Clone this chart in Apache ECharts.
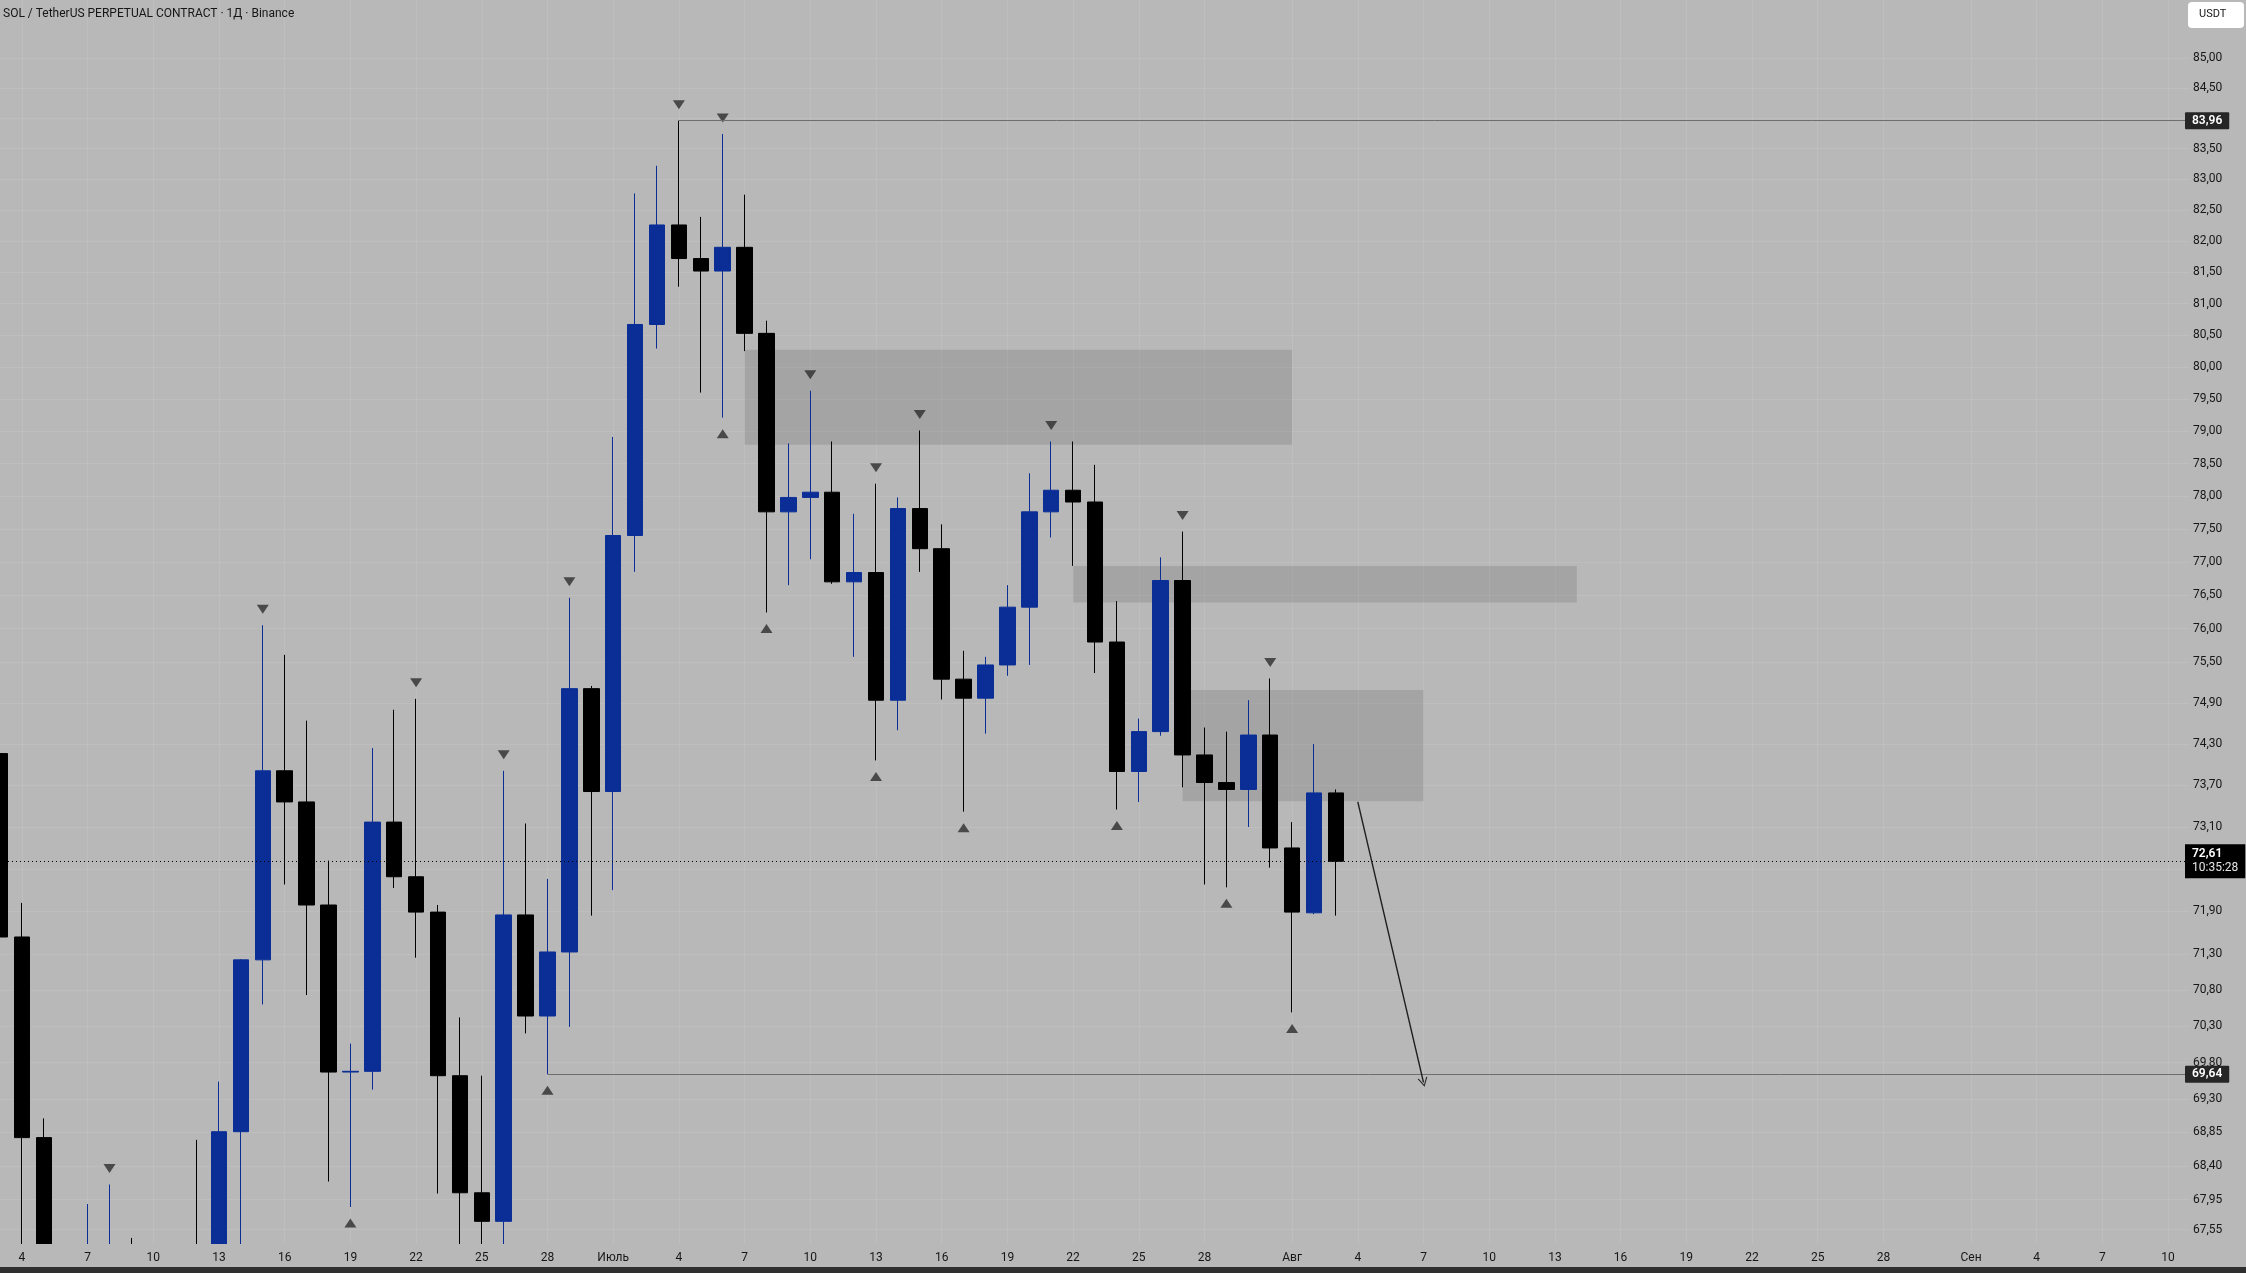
<!DOCTYPE html>
<html>
<head>
<meta charset="utf-8">
<script src="https://cdn.jsdelivr.net/npm/echarts@6/dist/echarts.min.js"></script>
<style>
html,body{margin:0;padding:0;background:#b8b8b8;}
#c{width:2246px;height:1273px;}
</style>
</head>
<body>
<div id="c"></div>
<script>
// ---------- data ----------
const chartTitle = 'SOL / TetherUS PERPETUAL CONTRACT · 1Д · Binance';
const quoteCurrency = 'USDT';

// calendar: first visible day 3 June, axis runs to 11 Sep
const monthSpans = [['06', 3, 30], ['07', 1, 31], ['08', 1, 31], ['09', 1, 11]];
const monthNames = {'07': 'Июль', '08': 'Авг', '09': 'Сен'};
const labelDays = [1, 4, 7, 10, 13, 16, 19, 22, 25, 28];

// daily candles from 3 June (index 0) to 3 Aug (index 61)
const opens  = [74.16,71.54,68.78,66.90,66.40,67.10,67.30,66.80,66.50,67.30,66.80,68.86,71.22,73.91,73.46,71.99,69.67,69.68,73.17,72.39,71.89,69.62,68.04,67.66,71.85,70.44,71.33,75.11,73.61,77.40,80.67,82.26,81.72,81.52,81.90,80.53,77.76,77.98,78.06,76.70,76.84,74.94,77.81,77.20,75.25,74.97,75.46,76.32,77.76,78.09,77.91,75.80,73.90,74.48,76.72,74.14,73.74,73.64,74.43,72.80,71.88,73.59];
const closes = [71.54,68.78,66.90,66.40,67.10,67.30,66.80,66.50,67.30,66.80,68.86,71.22,73.91,73.46,71.99,69.67,69.68,73.17,72.39,71.89,69.62,68.04,67.66,71.85,70.44,71.33,75.11,73.61,77.40,80.67,82.26,81.72,81.52,81.90,80.53,77.76,77.98,78.06,76.70,76.84,74.94,77.81,77.20,75.25,74.97,75.46,76.32,77.76,78.09,77.91,75.80,73.90,74.48,76.72,74.14,73.74,73.64,74.43,72.80,71.89,73.59,72.61];
const lows   = [70.82,67.00,66.50,65.90,66.00,66.60,66.30,65.90,66.20,66.40,66.50,67.30,70.60,72.28,70.73,68.19,67.85,69.43,72.23,71.25,68.03,67.30,67.30,67.30,70.20,69.64,70.29,71.84,72.20,76.85,80.29,81.27,79.60,79.21,80.25,76.24,76.65,77.04,76.67,75.58,74.06,74.50,76.85,74.95,73.32,74.45,75.30,75.46,77.37,76.94,75.34,73.35,73.46,74.42,73.67,72.28,72.24,73.10,72.52,70.49,71.86,71.84];
const highs  = [75.67,72.02,69.04,67.20,67.89,68.15,67.44,67.20,67.33,68.75,69.54,71.23,76.05,75.61,74.64,72.62,70.06,74.24,74.80,74.96,71.99,70.42,69.62,73.91,73.15,72.36,76.46,75.15,78.91,82.77,83.22,83.96,82.39,83.74,82.75,80.73,78.81,79.63,78.84,77.73,78.19,77.98,79.01,77.57,75.67,75.58,76.65,78.35,78.84,78.84,78.48,76.41,74.67,77.07,77.46,74.54,74.48,74.94,75.26,73.17,74.30,73.64];

// fractal marks (day indices)
const fractalHighDays = [5,12,19,23,26,31,33,37,40,42,48,54,58];
const fractalLowDays  = [16,25,33,35,40,44,51,56,59];

// price axis labels
const priceLabels = [85.00,84.50,83.50,83.00,82.50,82.00,81.50,81.00,80.50,80.00,79.50,79.00,78.50,78.00,77.50,77.00,76.50,76.00,75.50,74.90,74.30,73.70,73.10,71.90,71.30,70.80,70.30,69.80,69.30,68.85,68.40,67.95,67.55];
const priceGrid = [85.00,84.50,84.00,83.50,83.00,82.50,82.00,81.50,81.00,80.50,80.00,79.50,79.00,78.50,78.00,77.50,77.00,76.50,76.00,75.50,74.90,74.30,73.70,73.10,72.50,71.90,71.30,70.80,70.30,69.80,69.30,68.85,68.40,67.95,67.55];
const priceMin = 67.36, priceMax = 85.97;

// drawn levels
const highLevel = {price: 83.96, fromDay: 31, label: '83,96'};
const lowLevel  = {price: 69.64, fromDay: 25, label: '69,64'};
const lastPrice = {price: 72.61, label: '72,61', timer: '10:35:28'};

// grey zones: start day, end day, top, bottom
const zoneStart  = [34, 49, 54];
const zoneEnd    = [59, 72, 65];
const zoneTop    = [80.27, 76.94, 75.09];
const zoneBottom = [78.79, 76.39, 73.47];

// projection arrow: [day, price]
const arrowFrom = [62, 73.46];
const arrowTo   = [65, 69.53];

// ---------- build ----------
const categories = [];
monthSpans.forEach(([m, a, b]) => { for (let d = a; d <= b; d++) categories.push(m + '-' + String(d).padStart(2, '0')); });
const lastIndex = categories.length - 1;

const candleData = opens.map((o, i) => [o, closes[i], lows[i], highs[i]]);
const isLabelDay = (idx) => labelDays.includes(+categories[idx].slice(3));
const fmtPrice = v => (Math.round(v * 100) / 100).toFixed(2).replace('.', ',');

const BG = '#b8b8b8';
const BLUE = '#0a2e96';
const FONT = 'Roboto';
const GRID_RIGHT = 56, GRID_BOTTOM = 29;
const PANE_RIGHT = 62; // visible price-pane edge from the right
const TAG_SHIFT = GRID_RIGHT - PANE_RIGHT + 1;
const W = 2246, H = 1273;
const chart = echarts.init(document.getElementById('c'), null, {renderer: 'canvas'});

const tagLabel = {
  show: true, position: 'end', distance: TAG_SHIFT,
  backgroundColor: '#262626', color: '#ffffff', fontSize: 12, fontWeight: 600, fontFamily: FONT,
  padding: [3, 7, 2, 7], borderRadius: 1
};

chart.setOption({
  animation: false,
  backgroundColor: BG,
  textStyle: {fontFamily: FONT},
  grid: {left: 0, right: GRID_RIGHT, top: 0, bottom: GRID_BOTTOM, containLabel: false},
  xAxis: [
    {
      type: 'category',
      data: categories,
      boundaryGap: false,
      z: 20,
      axisLine: {show: false},
      axisTick: {show: false},
      axisLabel: {
        interval: (idx) => isLabelDay(idx),
        formatter: (v) => { const day = +v.slice(3); return day === 1 ? monthNames[v.slice(0, 2)] : String(day); },
        color: '#161616', fontSize: 12, fontFamily: FONT, margin: 8
      },
      splitLine: {show: false}
    },
    {
      type: 'category',
      data: categories,
      boundaryGap: false,
      position: 'top',
      axisLine: {show: false},
      axisTick: {show: false},
      axisLabel: {show: false},
      splitLine: {show: true, interval: (idx) => isLabelDay(idx), lineStyle: {color: 'rgba(255,255,255,0.09)', width: 1}}
    }
  ],
  yAxis: {
    type: 'log',
    logBase: 10,
    position: 'right',
    min: priceMin,
    max: priceMax,
    axisLine: {show: false},
    axisTick: {show: false, customValues: priceGrid},
    axisLabel: {customValues: priceLabels, formatter: fmtPrice, color: '#161616', fontSize: 12, fontFamily: FONT, margin: 9 + (GRID_RIGHT - PANE_RIGHT)},
    splitLine: {show: true, lineStyle: {color: 'rgba(255,255,255,0.09)', width: 1}}
  },
  series: [
    {
      type: 'line', data: [], z: 1, clip: false, silent: true,
      markArea: {
        silent: true,
        itemStyle: {color: 'rgba(0,0,0,0.105)'},
        data: zoneStart.map((s, i) => [{coord: [s, zoneTop[i]]}, {coord: [zoneEnd[i], zoneBottom[i]]}])
      },
      markLine: {
        silent: true,
        symbol: ['none', 'none'],
        data: [
          [{coord: [highLevel.fromDay, highLevel.price], label: Object.assign({}, tagLabel, {formatter: highLevel.label})},
           {coord: [lastIndex, highLevel.price]}],
          [{coord: [lowLevel.fromDay, lowLevel.price], label: Object.assign({}, tagLabel, {formatter: lowLevel.label})},
           {coord: [lastIndex, lowLevel.price]}]
        ],
        lineStyle: {color: '#6e6e6e', width: 1, type: 'solid'},
        label: tagLabel
      }
    },
    {
      type: 'line', data: [], z: 2, clip: false, silent: true,
      markLine: {
        silent: true,
        symbol: ['none', 'none'],
        data: [{yAxis: lastPrice.price}],
        lineStyle: {color: '#000000', width: 1, type: [1, 3]},
        label: {
          show: true, position: 'end', distance: TAG_SHIFT,
          formatter: '{a|' + lastPrice.label + '}\n{b|' + lastPrice.timer + '}',
          backgroundColor: '#000000', padding: [3, 7, 3, 7],
          rich: {
            a: {color: '#ffffff', fontSize: 12, fontWeight: 600, fontFamily: FONT, lineHeight: 14},
            b: {color: '#e6e6e6', fontSize: 12, fontFamily: FONT, lineHeight: 14}
          }
        }
      }
    },
    {
      type: 'candlestick',
      data: candleData,
      barWidth: 16,
      z: 3,
      clip: true,
      itemStyle: {color: BLUE, color0: '#000000', borderColor: BLUE, borderColor0: '#000000', borderWidth: 1}
    },
    {
      type: 'line', data: [], z: 5, clip: false, silent: true,
      markLine: {
        silent: true,
        symbol: ['none', 'path://M0,10 L5,0 L10,10 L8.8,10 L5,2.2 L1.2,10 Z'],
        symbolSize: [10, 9],
        data: [[{coord: arrowFrom}, {coord: arrowTo}]],
        lineStyle: {color: '#1e1e1e', width: 1.4, type: 'solid'},
        label: {show: false}
      }
    },
    {
      type: 'scatter', z: 4, silent: true,
      data: fractalHighDays.map(d => [d, highs[d]]),
      symbol: 'triangle', symbolRotate: 180, symbolSize: [12, 9], symbolOffset: [0, -16],
      itemStyle: {color: '#2d2d2d'}
    },
    {
      type: 'scatter', z: 4, silent: true,
      data: fractalLowDays.map(d => [d, lows[d]]),
      symbol: 'triangle', symbolSize: [12, 9], symbolOffset: [0, 16],
      itemStyle: {color: '#2d2d2d'}
    }
  ],
  graphic: [
    // hides candle parts below the bottom of the price pane (time-scale strip)
    {type: 'rect', z: 10, shape: {x: 0, y: H - GRID_BOTTOM, width: W - GRID_RIGHT, height: GRID_BOTTOM - 6}, style: {fill: BG}},
    {type: 'text', z: 10, left: 3, top: 8, style: {text: chartTitle, fill: '#161616', font: '12px ' + FONT}},
    {type: 'rect', z: 10, shape: {x: 2188, y: 2, width: 56, height: 26, r: 4}, style: {fill: '#ffffff'}},
    {type: 'text', z: 11, x: 2199, y: 9, style: {text: quoteCurrency, fill: '#161616', font: '11px ' + FONT}},
    {type: 'rect', z: 10, shape: {x: 0, y: H - 6, width: W, height: 6}, style: {fill: '#2f2f2f'}}
  ]
});
</script>
</body>
</html>
